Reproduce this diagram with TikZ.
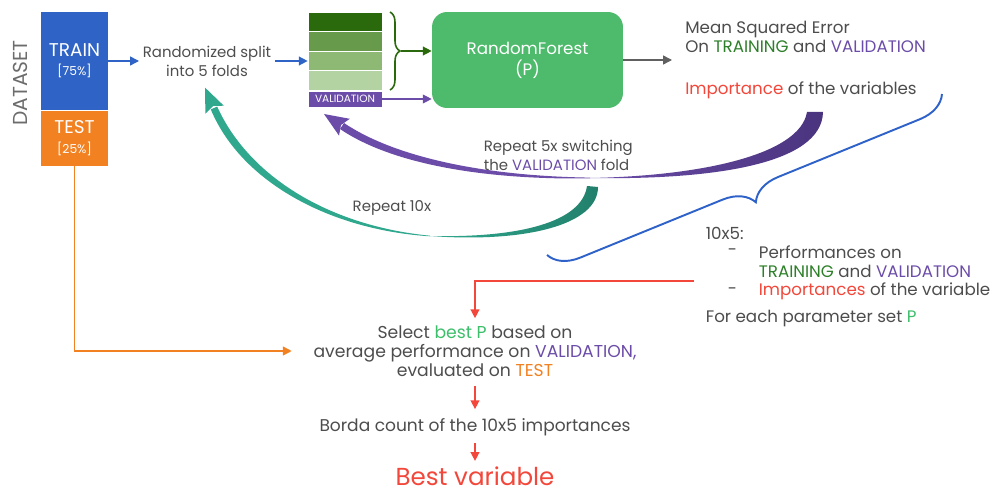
\documentclass[tikz,border=0pt]{standalone}
\usepackage{fontspec}
\setmainfont{Poppins}
\usetikzlibrary{positioning,arrows.meta,decorations.pathreplacing}
\definecolor{trainblue}{HTML}{2F63C5}
\definecolor{testorange}{HTML}{F28122}
\definecolor{rfgreen}{HTML}{4DBB6B}
\definecolor{foldA}{HTML}{2B6A0C}
\definecolor{foldB}{HTML}{689A4C}
\definecolor{foldC}{HTML}{8EB974}
\definecolor{foldD}{HTML}{B4D3A2}
\definecolor{valpurple}{HTML}{6B4CA8}
\definecolor{darkpurple}{HTML}{4A347E}
\definecolor{trgreen}{HTML}{2E7F2A}
\definecolor{impred}{HTML}{F2473A}
\definecolor{bestgreen}{HTML}{3DBE6A}
\definecolor{tealA}{HTML}{2FA88E}
\definecolor{tealB}{HTML}{22806C}
\definecolor{inkgray}{HTML}{4D4D4D}
\definecolor{bracecol}{HTML}{2E62C9}

\begin{document}
\begin{tikzpicture}[x=0.02cm, y=-0.02cm,
  txt/.style={font=\fontsize{8.5}{10.8}\selectfont, text=inkgray, align=center, inner sep=2pt},
  bigtxt/.style={font=\fontsize{9.5}{11}\selectfont, text=inkgray, align=left, inner sep=2pt},
  setbox/.style={fill=#1, text=white, minimum width=1.34cm, inner sep=0pt,
                 align=center, font=\fontsize{10.5}{12}\selectfont},
  foldbox/.style={fill=#1, draw=white, line width=0.4pt, minimum width=1.48cm,
                  minimum height=0.39cm, inner sep=0pt},
  arr/.style={-{Triangle[length=5pt,width=5pt]}, line width=0.8pt, draw=#1},
]
\useasboundingbox (0,0) rectangle (994,496);
%─── Dataset split ─────────────────────────────────────────────
\node[rotate=90, font=\fontsize{11.5}{12}\selectfont, text=gray!85!black] (ds) at (20,83) {DATASET};
\node[setbox=trainblue, minimum height=1.96cm] (train) at (74.5,61)
  {TRAIN\\[-1pt]{\fontsize{7}{8}\selectfont [75\%]}};
\node[setbox=testorange, minimum height=1.1cm, below=0pt of train] (test)
  {TEST\\[-1pt]{\fontsize{7}{8}\selectfont [25\%]}};
\node[txt] (split) at (207,61) {Randomized split\\into 5 folds};
\draw[arr=trainblue] (train) -- (split);
%─── Folds and model ───────────────────────────────────────────
\foreach \i/\c in {1/foldA,2/foldB,3/foldC,4/foldD}
  \node[foldbox=\c] (f\i) at (345,{2.5+19.5*\i}) {};
\node[foldbox=valpurple, minimum height=0.32cm, text=white,
      font=\fontsize{6}{6}\selectfont] (val) at (345,99) {VALIDATION};
\draw[arr=trainblue] (split) -- (f3);
\node[fill=rfgreen, rounded corners=0.3cm, minimum width=3.82cm, minimum height=1.92cm,
      text=white, font=\fontsize{9.5}{12}\selectfont, align=center] (rf) at (527.5,60)
  {RandomForest\\(P)};
\draw[decorate, decoration={brace, amplitude=0.2cm}, foldA, line width=0.9pt] (390,12) -- (390,90);
\coordinate (gtip) at (401,51);
\draw[arr=foldA] (gtip) -- (rf.west |- gtip);
\draw[arr=valpurple, line width=0.6pt] (val) -- (rf.west |- val);
\node[bigtxt, anchor=west, inner xsep=0.26cm] (mse) at (672,60)
  {Mean Squared Error\\On \textcolor{trgreen}{TRAINING} and \textcolor{valpurple}{VALIDATION}\\[13pt]
   \textcolor{impred}{Importance} of the variables};
\draw[arr=gray!75!black] (rf.east) -- (mse.west);
%─── Repeat loops ──────────────────────────────────────────────
\shade[left color=valpurple, right color=darkpurple]
  (807,112) .. controls (800,155) and (700,176) .. (590,178)
  .. controls (710,180) and (822,165) .. (823,112) -- cycle;
\fill[valpurple] (590,177.6) .. controls (480,176) and (393,156) .. (344,123)
  -- (340,129) .. controls (390,163) and (480,180) .. (590,178.4) -- cycle;
\fill[valpurple] (324,114) -- (349.8,118.8) -- (341,125) -- (339,135.6) -- cycle;
\shade[left color=tealA, right color=tealB]
  (587,186) .. controls (582,222) and (520,238) .. (430,236)
  .. controls (525,243) and (598,225) .. (598,187) -- cycle;
\fill[tealA] (430,235.7) .. controls (330,226) and (249,177) .. (217.2,106.6)
  -- (210.8,109.4) .. controls (241,182) and (330,230) .. (430,236.3) -- cycle;
\fill[tealA] (205,87.6) -- (223.8,105.7) -- (213,106) -- (205.4,113.7) -- cycle;
\node[txt, align=left, anchor=west] (rep5) at (480,155)
  {Repeat 5x switching\\the \textcolor{valpurple}{VALIDATION} fold};
\node[txt] (rep10) at (392,208) {Repeat 10x};
%─── Collected results ─────────────────────────────────────────
\draw[decorate, decoration={brace, amplitude=0.6cm}, bracecol, line width=1.1pt] (942,94) -- (547,255);
\node[bigtxt, anchor=west] (tenfive) at (702,233) {10x5:};
\node[bigtxt, anchor=west] (dashA) at (724,252) {-};
\node[bigtxt, anchor=west] (perf) at (755,261.5)
  {Performances on\\\textcolor{trgreen}{TRAINING} and \textcolor{valpurple}{VALIDATION}};
\node[bigtxt, anchor=west] (dashB) at (724,291) {-};
\node[bigtxt, anchor=west] (imps) at (755,291) {\textcolor{impred}{Importances} of the variable};
\node[bigtxt, anchor=west] (each) at (702,318) {For each parameter set \textcolor{bestgreen}{P}};
%─── Final selection ───────────────────────────────────────────
\node[txt, font=\fontsize{9.8}{10.8}\selectfont] (select) at (475,351)
  {Select \textcolor{bestgreen}{best P} based on\\average performance on \textcolor{valpurple}{VALIDATION,}\\
   evaluated on \textcolor{testorange}{TEST}};
\node[txt, font=\fontsize{9.7}{10.8}\selectfont] (borda) at (475,427) {Borda count of the 10x5 importances};
\node[font=\fontsize{14}{16}\selectfont, text=impred, inner sep=0pt] (best) at (475,476) {Best variable};
\coordinate (redstart) at (694,281);
\draw[arr=impred, shorten >=2pt] (redstart) -| (select.north);
\draw[arr=impred, shorten <=3pt, shorten >=3pt] (select) -- (borda);
\draw[arr=impred, shorten <=2pt, shorten >=3pt] (borda) -- (best);
\draw[arr=testorange, shorten >=0.36cm] (test.south) |- (select.west);
\end{tikzpicture}
\end{document}
